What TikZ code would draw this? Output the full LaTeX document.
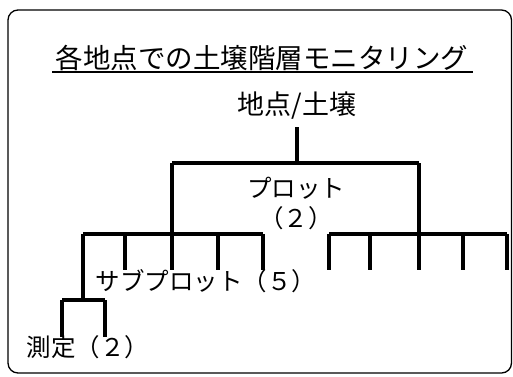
\documentclass[tikz,border=0pt]{standalone}
\usepackage{fontspec}
\newfontfamily\cjk{Noto Sans CJK JP}
\begin{document}
\begin{tikzpicture}[x=1pt,y=-1pt,
  tree/.style={line width=3.3pt},
  lbl/.style={font=\cjk\fontsize{24.5}{30}\selectfont, inner sep=0pt},
  rootlbl/.style={font=\cjk\fontsize{27}{30}\selectfont, inner sep=0pt},
  ttl/.style={font=\cjk\fontsize{27.5}{30}\selectfont, inner sep=0pt}]
\useasboundingbox (0,0) rectangle (513,376);
\draw[line width=1.3pt, rounded corners=10pt] (8,10) rectangle (511.5,373);
% title
\node[ttl] (title) at (262,58) {各地点での土壌階層モニタリング};
\draw[line width=1.3pt] (52,72) -- (473,72);
% labels
\node[rootlbl] (root) at (297,106) {地点/土壌};
\node[lbl, align=center] (plot) at (296,203) {プロット\\（２）};
\node[lbl] (sub) at (206,281) {サブプロット（５）};
\node[lbl] (meas) at (88,347) {測定（２）};
% level 1
\coordinate (r0) at (297,127);
\coordinate (r1) at (297,163);
\coordinate (pL) at (172,163);
\coordinate (pR) at (419,163);
\draw[tree] (r0) -- (r1);
\draw[tree] (pL) -- (pR);
% left subplot group
\coordinate (lA) at (83,234);
\coordinate (lE) at (263,234);
\draw[tree] (pL) -- (172,234);
\draw[tree] (lA) -- (lE);
\foreach \x in {125,172,218,263} \draw[tree] (\x,234) -- (\x,270);
% right subplot group
\coordinate (rA) at (329,234);
\coordinate (rE) at (507,234);
\draw[tree] (pR) -- (419,234);
\draw[tree] (rA) -- (rE);
\foreach \x in {329,370,419,463,507} \draw[tree] (\x,234) -- (\x,270);
% measurement
\coordinate (m0) at (83,300);
\coordinate (mL) at (62,300);
\coordinate (mR) at (105,300);
\draw[tree] (lA) -- (m0);
\draw[tree] (mL) -- (mR);
\draw[tree] (mL) -- (62,337);
\draw[tree] (mR) -- (105,337);
\end{tikzpicture}
\end{document}
